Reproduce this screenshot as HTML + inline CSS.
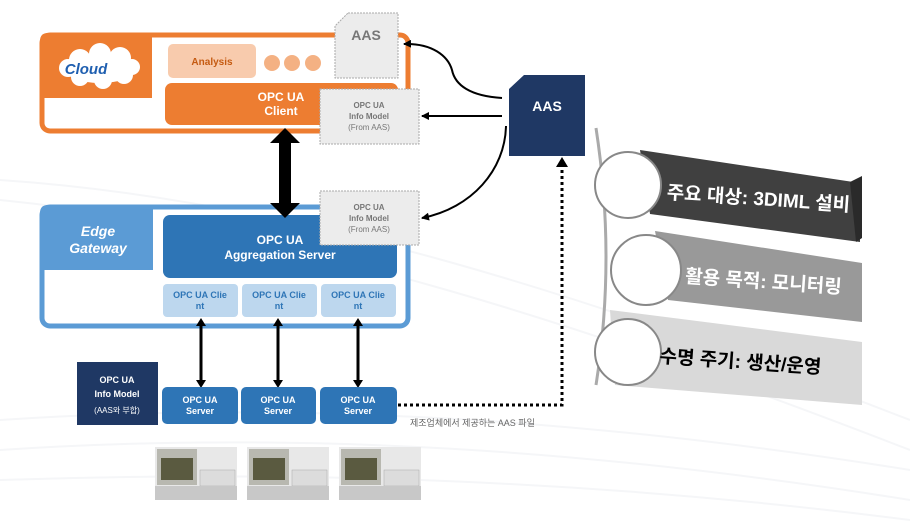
<!DOCTYPE html>
<html><head><meta charset="utf-8"><style>
html,body{margin:0;padding:0;background:#fff;}
svg{display:block;font-family:"Liberation Sans","Noto Sans CJK KR",sans-serif;}
</style></head><body>
<svg width="910" height="527" viewBox="0 0 910 527" xmlns="http://www.w3.org/2000/svg">
<defs>
<marker id="ah" markerWidth="8" markerHeight="8" refX="7" refY="4" orient="auto" markerUnits="userSpaceOnUse"><path d="M0,0 L8,4 L0,8 z" fill="#000"/></marker>
</defs>
<g stroke="#f5f6f8" stroke-width="2" fill="none">
<path d="M0,180 C300,200 600,300 910,420"/><path d="M0,200 C300,230 600,330 910,450"/>
<path d="M0,420 C300,400 600,420 910,470"/><path d="M0,450 C300,430 600,450 910,500"/>
<path d="M0,480 C300,470 600,480 910,520"/>
</g>
<rect x="42" y="35" width="366" height="96" rx="8" fill="#fff" stroke="#ed7d31" stroke-width="5"/>
<path d="M40,41 Q40,33 48,33 L152,33 L152,98 L40,98 z" fill="#ed7d31"/>
<g fill="#fff">
<ellipse cx="100" cy="68" rx="36" ry="15"/><circle cx="80" cy="60" r="11"/><circle cx="100" cy="54" r="11"/><circle cx="120" cy="58" r="11"/><circle cx="80" cy="77" r="9"/><circle cx="103" cy="80" r="9"/><circle cx="124" cy="75" r="9"/><circle cx="68" cy="68" r="9"/><circle cx="132" cy="67" r="8"/>
</g>
<text x="86" y="74" font-size="15" font-weight="bold" font-style="italic" fill="#1f5fb0" text-anchor="middle">Cloud</text>
<rect x="168" y="44" width="88" height="34" rx="5" fill="#f8cbad"/>
<text x="212" y="65" font-size="10" font-weight="bold" fill="#c55a11" text-anchor="middle">Analysis</text>
<circle cx="272" cy="63" r="8" fill="#f4b183"/><circle cx="292" cy="63" r="8" fill="#f4b183"/><circle cx="313" cy="63" r="8" fill="#f4b183"/>
<rect x="165" y="83" width="233" height="42" rx="7" fill="#ed7d31"/>
<text x="281" y="101" font-size="12" font-weight="bold" fill="#fff" text-anchor="middle">OPC UA</text>
<text x="281" y="115" font-size="12" font-weight="bold" fill="#fff" text-anchor="middle">Client</text>
<path d="M348,13 L398,13 L398,78 L335,78 L335,26 z" fill="#ececec" stroke="#aaa" stroke-dasharray="2,1"/>
<text x="366" y="40" font-size="14" font-weight="bold" fill="#777" text-anchor="middle">AAS</text>
<rect x="42" y="207" width="366" height="119" rx="8" fill="#fff" stroke="#5b9bd5" stroke-width="5"/>
<path d="M40,213 Q40,205 48,205 L153,205 L153,270 L40,270 z" fill="#5b9bd5"/>
<text x="98" y="236" font-size="14" font-weight="bold" font-style="italic" fill="#fff" text-anchor="middle">Edge</text>
<text x="98" y="253" font-size="14" font-weight="bold" font-style="italic" fill="#fff" text-anchor="middle">Gateway</text>
<rect x="163" y="215" width="234" height="63" rx="7" fill="#2e75b6"/>
<text x="280" y="244" font-size="12" font-weight="bold" fill="#fff" text-anchor="middle">OPC UA</text>
<text x="280" y="259" font-size="12" font-weight="bold" fill="#fff" text-anchor="middle">Aggregation Server</text>
<g font-size="9" font-weight="bold" fill="#2e75b6" text-anchor="middle">
<rect x="163" y="284" width="75" height="33" rx="4" fill="#bdd7ee"/><text x="200" y="298">OPC UA Clie</text><text x="200" y="309">nt</text>
<rect x="242" y="284" width="75" height="33" rx="4" fill="#bdd7ee"/><text x="279" y="298">OPC UA Clie</text><text x="279" y="309">nt</text>
<rect x="321" y="284" width="75" height="33" rx="4" fill="#bdd7ee"/><text x="358" y="298">OPC UA Clie</text><text x="358" y="309">nt</text>
</g>
<g font-size="8" font-weight="bold" fill="#777" text-anchor="middle">
<rect x="320" y="89" width="99" height="55" fill="#ececec" stroke="#aaa" stroke-dasharray="2,1"/>
<text x="369" y="108">OPC UA</text><text x="369" y="119">Info Model</text><text x="369" y="130" font-weight="normal">(From AAS)</text>
<rect x="320" y="191" width="99" height="54" fill="#ececec" stroke="#aaa" stroke-dasharray="2,1"/>
<text x="369" y="210">OPC UA</text><text x="369" y="221">Info Model</text><text x="369" y="232" font-weight="normal">(From AAS)</text>
</g>
<path d="M285,128 L300,143 L291,143 L291,203 L300,203 L285,218 L270,203 L279,203 L279,143 L270,143 z" fill="#000"/>
<g stroke="#000" stroke-width="3">
<line x1="201" y1="322" x2="201" y2="383"/><line x1="278" y1="322" x2="278" y2="383"/><line x1="358" y1="322" x2="358" y2="383"/>
</g>
<g fill="#000">
<path d="M196,326 L201,318 L206,326z"/><path d="M196,380 L201,388 L206,380z"/>
<path d="M273,326 L278,318 L283,326z"/><path d="M273,380 L278,388 L283,380z"/>
<path d="M353,326 L358,318 L363,326z"/><path d="M353,380 L358,388 L363,380z"/>
</g>
<g font-size="9" font-weight="bold" fill="#fff" text-anchor="middle">
<rect x="162" y="387" width="76" height="37" rx="5" fill="#2e75b6"/><text x="200" y="403">OPC UA</text><text x="200" y="414">Server</text>
<rect x="241" y="387" width="75" height="37" rx="5" fill="#2e75b6"/><text x="278" y="403">OPC UA</text><text x="278" y="414">Server</text>
<rect x="320" y="387" width="77" height="37" rx="5" fill="#2e75b6"/><text x="358" y="403">OPC UA</text><text x="358" y="414">Server</text>
<rect x="77" y="362" width="81" height="63" fill="#1f3864"/>
<text x="117" y="383">OPC UA</text><text x="117" y="397">Info Model</text><text x="117" y="413" font-weight="normal" font-size="8">(AAS와 부합)</text>
</g>
<g id="m">
<rect x="155" y="447" width="82" height="53" fill="#e8e8e8"/>
<rect x="157" y="449" width="40" height="36" fill="#b8b8b0"/><rect x="161" y="458" width="32" height="22" fill="#5a5a40"/>
<rect x="200" y="470" width="35" height="16" fill="#dcdcdc" stroke="#aaa" stroke-width="0.5"/>
<rect x="155" y="486" width="82" height="14" fill="#c8c8c8"/>
</g>
<use href="#m" x="92"/><use href="#m" x="184"/>
<path d="M398,405 L562,405 L562,166" stroke="#000" stroke-width="3" stroke-dasharray="3,3" fill="none"/>
<path d="M556,167 L562,157 L568,167z" fill="#000"/>
<text x="410" y="426" font-size="9" fill="#666">제조업체에서 제공하는 AAS 파일</text>
<path d="M524,75 L585,75 L585,156 L509,156 L509,89 z" fill="#1f3864"/>
<text x="547" y="111" font-size="14" font-weight="bold" fill="#fff" text-anchor="middle">AAS</text>
<g stroke="#000" stroke-width="2" fill="none">
<path d="M502,98 C470,96 455,85 452,70 C448,56 432,43 404,44" marker-end="url(#ah)"/>
<path d="M502,116 L422,116" marker-end="url(#ah)"/>
<path d="M506,126 C505,170 472,208 422,218" marker-end="url(#ah)"/>
</g>
<path d="M596,128 Q616,258 596,385" stroke="#aaa" stroke-width="3" fill="none"/>
<polygon points="640,150 860,183 860,242 650,214" fill="#404040"/>
<polygon points="850,182 862,176 862,238 856,242" fill="#2a2a2a"/>
<polygon points="655,231 862,263 862,322 668,300" fill="#999"/>
<polygon points="610,310 862,342 862,405 615,385" fill="#d9d9d9"/>
<circle cx="628" cy="185" r="33" fill="#fff" stroke="#888" stroke-width="2"/>
<circle cx="646" cy="270" r="35" fill="#fff" stroke="#888" stroke-width="2"/>
<circle cx="628" cy="352" r="33" fill="#fff" stroke="#888" stroke-width="2"/>
<g font-size="19" font-weight="bold" text-anchor="middle">
<text x="758" y="205" fill="#fff" transform="rotate(4 758 205)">주요 대상: 3DIML 설비</text>
<text x="763" y="288" fill="#fff" transform="rotate(4 763 288)">활용 목적: 모니터링</text>
<text x="740" y="368" fill="#000" transform="rotate(4 740 368)">수명 주기: 생산/운영</text>
</g>
</svg>
</body></html>
